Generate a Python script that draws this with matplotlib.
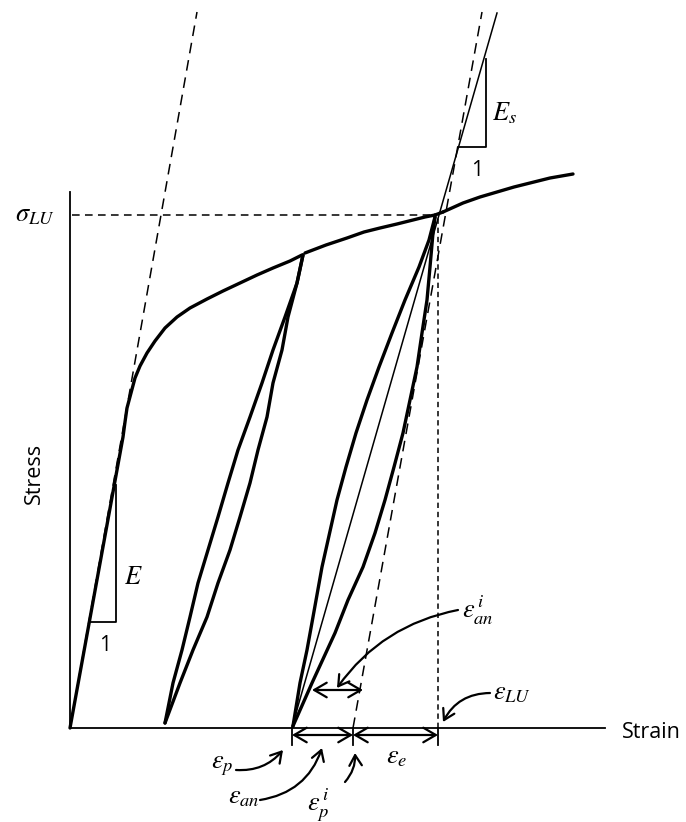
import matplotlib
matplotlib.use("Agg")
import matplotlib.pyplot as plt
from matplotlib.patches import FancyArrowPatch

plt.rcParams['mathtext.fontset'] = 'stix'
plt.rcParams['font.family'] = ['Open Sans', 'DejaVu Sans']

# main loading curve (strain, stress)
env1_x = [0, 53, 55, 57, 61, 65, 70, 77, 85, 95, 107, 120, 137, 153, 170, 187, 203, 220, 232]
env1_y = [0, 291, 306, 320, 335, 350, 362, 375, 387, 400, 411, 420, 429, 437, 445, 453, 460, 467, 473]
env2_x = [235, 256, 277, 294, 310, 327, 343, 355, 365]
env2_y = [475, 483, 490, 496, 500, 504, 508, 511, 513]
env3_x = [373, 393, 410, 427, 444, 460, 480, 503]
env3_y = [516, 525, 531, 536, 541, 545, 550, 554]

# first unloading / reloading loop
loop1_left_x = [95, 103, 112, 120, 128, 138, 148, 158, 168, 180, 192, 203, 215, 227, 233]
loop1_left_y = [5, 45, 78, 111, 145, 178, 211, 245, 278, 311, 345, 378, 411, 445, 473]
loop1_right_x = [95, 110, 123, 137, 148, 160, 170, 180, 188, 197, 203, 212, 218, 227, 233]
loop1_right_y = [5, 45, 78, 111, 145, 178, 211, 245, 278, 311, 345, 378, 411, 445, 473]

# second loop (at sigma_LU)
loop2_left_x = [223, 230, 237, 243, 252, 267, 276, 286, 297, 309, 322, 335, 349, 359, 365]
loop2_left_y = [2, 45, 78, 111, 161, 228, 261, 295, 328, 361, 395, 428, 461, 488, 511]
loop2_right_x = [223, 242, 265, 278, 293, 305, 315, 324, 333, 340, 347, 352, 357, 360, 363, 365]
loop2_right_y = [2, 45, 95, 128, 161, 195, 228, 261, 295, 328, 361, 395, 428, 461, 495, 511]

# reference lines
E_line_x = [0, 127]
E_line_y = [0, 716]
Ep_line_x = [283, 412]
Ep_line_y = [0, 716]
Es_line_x = [222, 427]
Es_line_y = [1, 715]
sigma_LU = 513
eps_p, eps_pi, eps_LU = 222, 283, 368

fig = plt.figure(figsize=(6.86, 8.22), dpi=100)
ax = fig.add_axes([0, 0, 1, 1])
ax.set_xlim(-70, 616)
ax.set_ylim(-94, 728)
ax.axis('off')

# axes
ax.plot([0, 0], [0, 536], color='k', lw=1.3)
ax.plot([0, 535], [0, 0], color='k', lw=1.3)

thick = dict(color='k', lw=2.4, solid_capstyle='round', solid_joinstyle='round')
ax.plot(env1_x, env1_y, **thick)
ax.plot(env2_x, env2_y, **thick)
ax.plot(env3_x, env3_y, **thick)
ax.plot(loop1_left_x, loop1_left_y, **thick)
ax.plot(loop1_right_x, loop1_right_y, **thick)
ax.plot(loop2_left_x, loop2_left_y, **thick)
ax.plot(loop2_right_x, loop2_right_y, **thick)
ax.plot([env2_x[-1], env3_x[0]], [env2_y[-1], env3_y[0]], **thick)

ax.plot(E_line_x, E_line_y, color='k', lw=1.1, ls=(0, (7, 4.5)))
ax.plot(Ep_line_x, Ep_line_y, color='k', lw=1.1, ls=(0, (7, 4.5)))
ax.plot(Es_line_x, Es_line_y, color='k', lw=1.1)
ax.plot([2, 365], [sigma_LU, sigma_LU], color='k', lw=1.1, ls=(0, (5, 3.5)))
ax.plot([eps_LU, eps_LU], [0, sigma_LU], color='k', lw=1.1, ls=(0, (3.5, 2.5)))

# slope triangles
ax.plot([20, 46, 46], [106, 106, 243], color='k', lw=1.3)
ax.plot([388, 416, 416], [581, 581, 669], color='k', lw=1.3)
ax.text(63, 151, '$E$', fontsize=19, ha='center', va='center')
ax.text(35, 83, '1', fontsize=15, ha='center', va='center')
ax.text(434, 614, '$E_s$', fontsize=19, ha='center', va='center')
ax.text(407, 558, '1', fontsize=15, ha='center', va='center')

# labels
ax.text(-35, sigma_LU, r'$\sigma_{LU}$', fontsize=19, ha='center', va='center')
ax.text(-36, 255, 'Stress', fontsize=15.5, rotation=90, ha='center', va='center')
ax.text(552, -4, 'Strain', fontsize=15.5, ha='left', va='center')

# dimension arrows
for xv in [eps_p, eps_pi, eps_LU]:
    ax.plot([xv, xv], [0, -17], color='k', lw=1.3)
dim = dict(arrowstyle='<->,head_length=0.6,head_width=0.35', mutation_scale=15,
           color='k', lw=1.6, shrinkA=0, shrinkB=0)
ax.add_patch(FancyArrowPatch((eps_p, -7), (eps_pi, -7), **dim))
ax.add_patch(FancyArrowPatch((eps_pi, -7), (eps_LU, -7), **dim))
ax.add_patch(FancyArrowPatch((242, 38), (293, 38), **dim))

ax.text(327, -29, r'$\varepsilon_e$', fontsize=19, ha='center', va='center')
ax.text(392, 118, r'$\varepsilon_{an}^{\,i}$', fontsize=19, ha='left', va='center')
ax.text(423, 35, r'$\varepsilon_{LU}$', fontsize=19, ha='left', va='center')
ax.text(163, -37, r'$\varepsilon_p$', fontsize=19, ha='right', va='center')
ax.text(190, -69, r'$\varepsilon_{an}$', fontsize=19, ha='right', va='center')
ax.text(248, -77, r'$\varepsilon_p^{\,i}$', fontsize=19, ha='center', va='center')

curved = dict(arrowstyle='->,head_length=0.5,head_width=0.3', mutation_scale=15,
              color='k', lw=1.6, shrinkA=0, shrinkB=0)
ax.add_patch(FancyArrowPatch((388, 118), (267, 40), connectionstyle='arc3,rad=0.2', **curved))
ax.add_patch(FancyArrowPatch((420, 35), (373, 6), connectionstyle='arc3,rad=0.3', **curved))
ax.add_patch(FancyArrowPatch((166, -42), (213, -22), connectionstyle='arc3,rad=0.25', **curved))
ax.add_patch(FancyArrowPatch((190, -72), (252, -20), connectionstyle='arc3,rad=0.3', **curved))
ax.add_patch(FancyArrowPatch((275, -54), (285, -25), connectionstyle='arc3,rad=0.2', **curved))

fig.savefig('out.png', dpi=100)
